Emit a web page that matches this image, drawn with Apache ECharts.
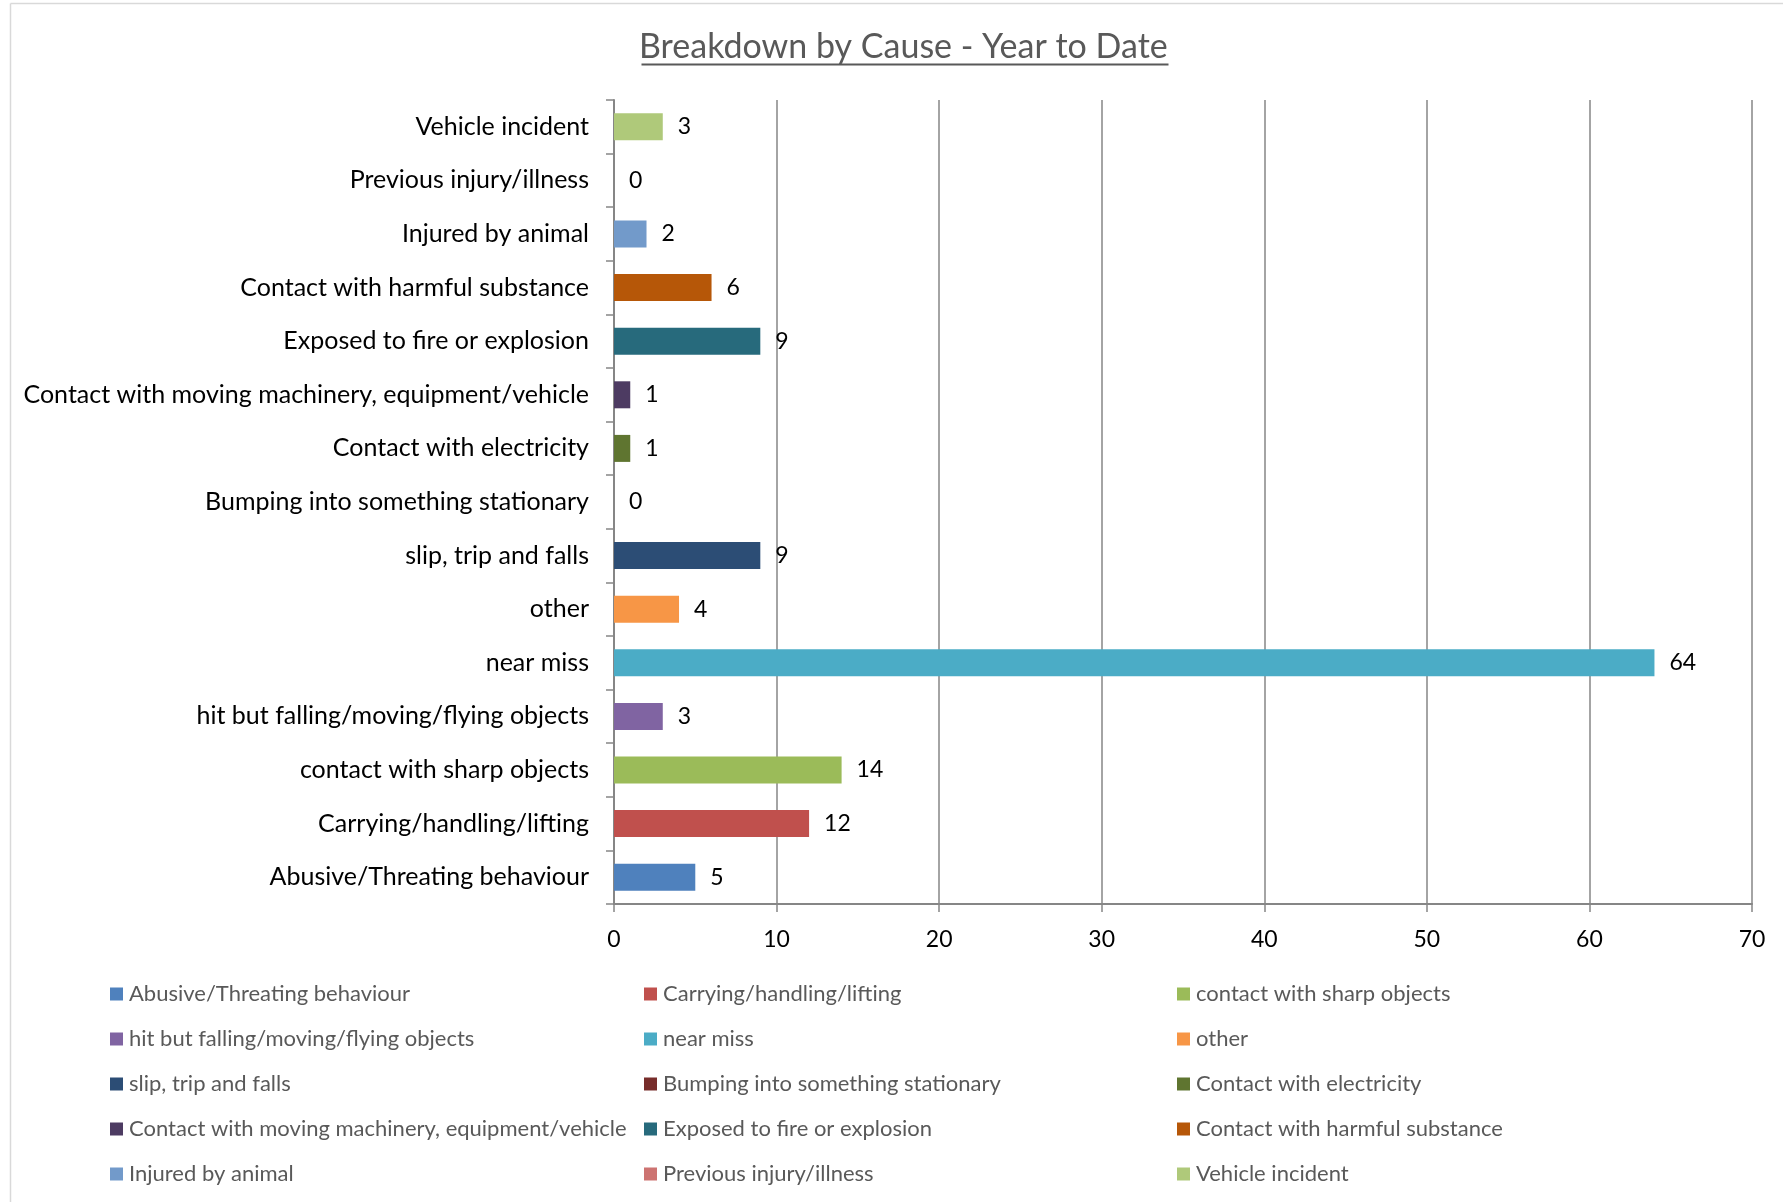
<!DOCTYPE html>
<html>
<head>
<meta charset="utf-8">
<script src="https://cdn.jsdelivr.net/npm/echarts@6/dist/echarts.min.js"></script>
<style>
html,body{margin:0;padding:0;background:#fff;}
#main{width:1783px;height:1202px;}
</style>
</head>
<body>
<div id="main"></div>
<script>
// categories bottom -> top (same order as legend)
var categories = [
    'Abusive/Threating behaviour',
    'Carrying/handling/lifting',
    'contact with sharp objects',
    'hit but falling/moving/flying objects',
    'near miss',
    'other',
    'slip, trip and falls',
    'Bumping into something stationary',
    'Contact with electricity',
    'Contact with moving machinery, equipment/vehicle',
    'Exposed to fire or explosion',
    'Contact with harmful substance',
    'Injured by animal',
    'Previous injury/illness',
    'Vehicle incident'
];
var counts = [5, 12, 14, 3, 64, 4, 9, 0, 1, 1, 9, 6, 2, 0, 3];
var colors = ['#4F81BD', '#C0504D', '#9BBB59', '#8064A2', '#4BACC6', '#F79646', '#2C4D75',
    '#772C2A', '#5F7530', '#4D3B62', '#276A7C', '#B65708', '#729ACA', '#CD7371', '#AFC97A'];
var xTicks = [0, 10, 20, 30, 40, 50, 60, 70];

var fontFam = 'Lato';
var chart = echarts.init(document.getElementById('main'));

// one series per cause so every cause gets its own legend entry
var series = [];
for (var i = 0; i < categories.length; i++) {
    var d = [];
    for (var j = 0; j < categories.length; j++) {
        d.push(j === i ? counts[i] : '-');
    }
    series.push({
        name: categories[i],
        type: 'bar',
        stack: 'all',
        barWidth: 27,
        itemStyle: {color: colors[i]},
        label: {
            show: true,
            position: 'right',
            distance: 15,
            color: '#000',
            fontFamily: fontFam,
            fontSize: 23
        },
        data: d
    });
}

// legend in 3 columns, row-major like the original
function legendCol(k, left) {
    var names = [];
    for (var i = k; i < categories.length; i += 3) names.push(categories[i]);
    return {
        orient: 'vertical',
        left: left,
        top: 977,
        icon: 'rect',
        itemWidth: 13,
        itemHeight: 13,
        itemGap: 21,
        textStyle: {color: '#595959', fontFamily: fontFam, fontSize: 22, lineHeight: 24, padding: [0, 0, 0, 1]},
        selectedMode: false,
        data: names
    };
}

var option = {
    animation: false,
    backgroundColor: '#fff',
    title: {
        text: 'Breakdown by Cause - Year to Date',
        left: 634,
        top: 25,
        textStyle: {color: '#595959', fontFamily: fontFam, fontSize: 34, fontWeight: 'normal'}
    },
    graphic: [
        // title underline
        {type: 'line', left: 639, top: 62, shape: {x1: 0, y1: 0, x2: 527, y2: 0}, style: {stroke: '#595959', lineWidth: 2}},
        // chart frame edges
        {type: 'line', left: 8, top: 1, shape: {x1: 0, y1: 0, x2: 0, y2: 1201}, style: {stroke: '#d9d9d9', lineWidth: 1.5}},
        {type: 'line', left: 8, top: 1, shape: {x1: 0, y1: 0, x2: 1775, y2: 0}, style: {stroke: '#d9d9d9', lineWidth: 1.5}}
    ],
    legend: [legendCol(0, 105), legendCol(1, 639), legendCol(2, 1172)],
    grid: {left: 614, right: 31, top: 100, bottom: 298},
    xAxis: {
        type: 'value',
        min: xTicks[0],
        max: xTicks[xTicks.length - 1],
        interval: 10,
        axisLine: {show: true, lineStyle: {color: '#868686', width: 2}},
        axisTick: {show: true, length: 8, lineStyle: {color: '#868686', width: 1.5}},
        axisLabel: {color: '#000', fontFamily: fontFam, fontSize: 23, margin: 24},
        splitLine: {show: true, lineStyle: {color: '#868686', width: 1.5}}
    },
    yAxis: {
        type: 'category',
        data: categories,
        axisLine: {show: true, lineStyle: {color: '#868686', width: 2}},
        axisTick: {show: true, length: 8, lineStyle: {color: '#868686', width: 1.5}},
        axisLabel: {color: '#000', fontFamily: fontFam, fontSize: 25, margin: 25},
        splitLine: {show: false}
    },
    series: series
};
chart.setOption(option);
</script>
</body>
</html>
